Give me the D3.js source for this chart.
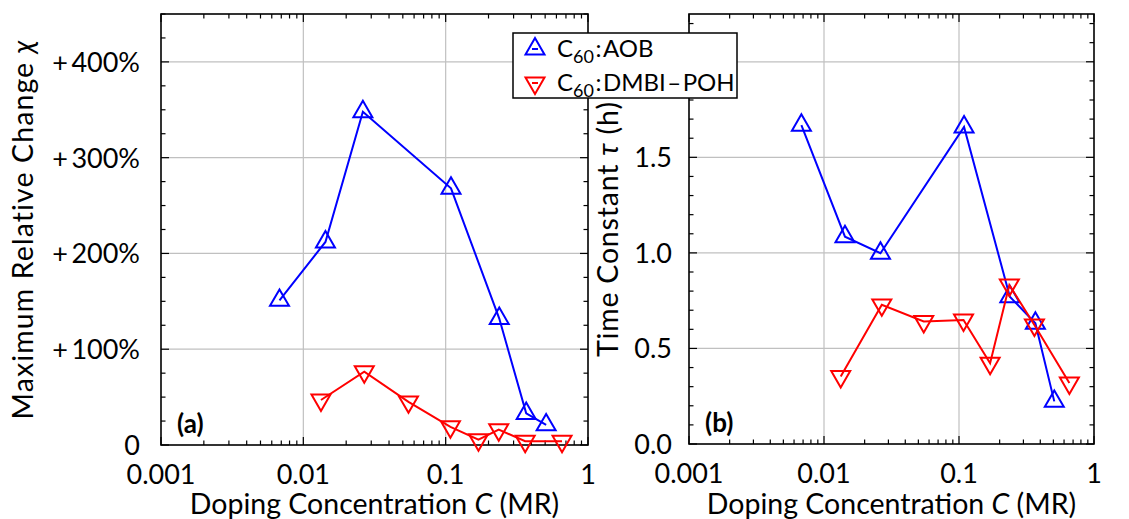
<!DOCTYPE html>
<html lang="en">
<head>
<meta charset="UTF-8">
<title>Doping concentration</title>
<style>
    body { margin: 0; background: #fff; }
    svg { display: block; }
    text { font-family: Lato, "Open Sans", sans-serif; fill: #000; }
    .tick-label { font-size: 27px; }
    .axis-title { font-size: 28.5px; }
    .panel-tag { font-size: 26px; font-weight: bold; }
    .legend-text { font-size: 24px; }
    .grid { stroke: #c0c0c0; stroke-width: 1.2; }
    .frame { fill: none; stroke: #000; stroke-width: 1.6; }
    .tick { stroke: #000; stroke-width: 1.2; }
</style>
<script src="https://d3js.org/d3.v7.min.js"></script>
</head>
<body>
<svg id="chart" width="1129" height="519" viewBox="0 0 1129 519"></svg>
<script>
// doping concentration (MR)
const concAOB  = [0.0068, 0.0143, 0.0262, 0.109, 0.238, 0.368, 0.508];
const concDMBI = [0.0133, 0.0268, 0.0548, 0.108, 0.17, 0.236, 0.362, 0.657];
// panel (a): maximum relative change chi (%)
const chiAOB  = [151, 212, 348, 268, 132, 33, 21];
const chiDMBI = [47, 76.5, 45, 19, 5.5, 16, 4, 4];
// panel (b): time constant tau (h)
const tauAOB  = [1.668, 1.085, 0.998, 1.659, 0.771, 0.632, 0.223];
const tauDMBI = [0.353, 0.728, 0.641, 0.649, 0.423, 0.832, 0.623, 0.319];

const xTicks = [0.001, 0.01, 0.1, 1];
const xTickLabels = ["0.001", "0.01", "0.1", "1"];
const chiTicks = [0, 100, 200, 300, 400];
const chiTickLabels = ["0", "+\u2009100%", "+\u2009200%", "+\u2009300%", "+\u2009400%"];
// the 2.0 label sits behind the legend box, so it is left empty
const tauTicks = [0, 0.5, 1.0, 1.5, 2.0];
const tauTickLabels = ["0.0", "0.5", "1.0", "1.5", ""];

const blue = "#0000ff", red = "#ff0000";
const svg = d3.select("#chart");

function triPath(up) {
    let a = 19, h = a * Math.sqrt(3) / 2;
    let s = up ? 1 : -1;
    return `M0,${-s * h * 2 / 3}L${a / 2},${s * h / 3}L${-a / 2},${s * h / 3}Z`;
}

function drawPanel(p) {
    let g = svg.append("g");
    let x = d3.scaleLog().domain([0.001, 1]).range([p.left, p.right]);
    let y = d3.scaleLinear().domain(p.yDomain).range([p.bottom, p.top]);

    // minor x ticks (log)
    let xMinor = [];
    [0.001, 0.01, 0.1].forEach(function (d) {
        for (let k = 2; k <= 9; k++) xMinor.push(d * k);
    });
    let yMinor = d3.range(p.yDomain[0], p.yDomain[1] + 1e-9, p.yMinorStep);

    // grid
    g.selectAll(".gx").data(xTicks.slice(1, -1)).enter().append("line")
        .attr("class", "grid")
        .attr("x1", d => x(d)).attr("x2", d => x(d))
        .attr("y1", p.top).attr("y2", p.bottom);
    g.selectAll(".gy").data(p.yTicks.slice(1)).enter().append("line")
        .attr("class", "grid")
        .attr("x1", p.left).attr("x2", p.right)
        .attr("y1", d => y(d)).attr("y2", d => y(d));

    // ticks, pointing inward on all four sides
    let tk = g.append("g");
    xTicks.concat(xMinor).forEach(function (d) {
        let len = xTicks.includes(d) ? 8 : 4.5;
        tk.append("line").attr("class", "tick")
            .attr("x1", x(d)).attr("x2", x(d)).attr("y1", p.bottom).attr("y2", p.bottom - len);
        tk.append("line").attr("class", "tick")
            .attr("x1", x(d)).attr("x2", x(d)).attr("y1", p.top).attr("y2", p.top + len);
    });
    yMinor.forEach(function (d) {
        let major = p.yTicks.some(t => Math.abs(t - d) < 1e-6);
        let len = major ? 8 : 4.5;
        tk.append("line").attr("class", "tick")
            .attr("x1", p.left).attr("x2", p.left + len).attr("y1", y(d)).attr("y2", y(d));
        tk.append("line").attr("class", "tick")
            .attr("x1", p.right).attr("x2", p.right - len).attr("y1", y(d)).attr("y2", y(d));
    });

    g.append("rect").attr("class", "frame")
        .attr("x", p.left).attr("y", p.top)
        .attr("width", p.right - p.left).attr("height", p.bottom - p.top);

    // tick labels
    g.selectAll(".xl").data(xTicks).enter().append("text")
        .attr("class", "tick-label")
        .attr("x", d => x(d)).attr("y", p.bottom + 39)
        .attr("text-anchor", "middle")
        .text((d, i) => xTickLabels[i]);
    g.selectAll(".yl").data(p.yTicks.filter((d, i) => p.yTickLabels[i] !== "")).enter().append("text")
        .attr("class", "tick-label")
        .attr("x", p.left - p.yLabelGap).attr("y", d => y(d) + 10)
        .attr("text-anchor", "end")
        .text((d, i) => p.yTickLabels[i]);

    // axis titles
    let xt = g.append("text").attr("class", "axis-title")
        .attr("x", (p.left + p.right) / 2).attr("y", 514)
        .attr("text-anchor", "middle");
    xt.append("tspan").text("Doping Concentration ");
    xt.append("tspan").attr("font-style", "italic").text("C");
    xt.append("tspan").text(" (MR)");

    let yt = g.append("text").attr("class", "axis-title")
        .attr("transform", `translate(${p.yTitleX},${(p.top + p.bottom) / 2}) rotate(-90)`)
        .attr("letter-spacing", p.yTitleSpacing)
        .attr("text-anchor", "middle");
    yt.append("tspan").text(p.yTitle[0]);
    yt.append("tspan").attr("font-style", "italic").text(p.yTitle[1]);
    yt.append("tspan").text(p.yTitle[2]);

    // series
    let line = d3.line().x(d => x(d[0])).y(d => y(d[1]));
    p.series.forEach(function (s) {
        let pts = d3.zip(s.conc, s.vals);
        g.append("path").datum(pts)
            .attr("d", line)
            .attr("fill", "none").attr("stroke", s.color).attr("stroke-width", 2);
        g.selectAll(null).data(pts).enter().append("path")
            .attr("transform", d => `translate(${x(d[0])},${y(d[1])})`)
            .attr("d", triPath(s.up))
            .attr("fill", "none").attr("stroke", s.color).attr("stroke-width", 2);
    });

    g.append("text").attr("class", "panel-tag")
        .attr("x", p.left + 16).attr("y", p.bottom - 12)
        .text(p.tag);
}

drawPanel({
    left: 161, right: 588, top: 14, bottom: 445,
    yDomain: [0, 450], yTicks: chiTicks, yTickLabels: chiTickLabels, yMinorStep: 25,
    yLabelGap: 21,
    yTitle: ["Maximum Relative Change ", "\u03c7", ""], yTitleX: 33, yTitleSpacing: 1.1,
    tag: "(a)",
    series: [
        {conc: concAOB, vals: chiAOB, color: blue, up: true},
        {conc: concDMBI, vals: chiDMBI, color: red, up: false}
    ]
});

drawPanel({
    left: 689, right: 1094, top: 14, bottom: 444,
    yDomain: [0, 2.25], yTicks: tauTicks, yTickLabels: tauTickLabels, yMinorStep: 0.1,
    yLabelGap: 17,
    yTitle: ["Time Constant ", "\u03c4", " (h)"], yTitleX: 618, yTitleSpacing: 0.8,
    tag: "(b)",
    series: [
        {conc: concAOB, vals: tauAOB, color: blue, up: true},
        {conc: concDMBI, vals: tauDMBI, color: red, up: false}
    ]
});

// legend on top of both panels
let lg = svg.append("g");
lg.append("rect")
    .attr("x", 513).attr("y", 33).attr("width", 224).attr("height", 65)
    .attr("fill", "#fff").attr("stroke", "#000").attr("stroke-width", 1.5);
[["AOB", blue, true], ["DMBI\u200a\u2013\u200aPOH", red, false]].forEach(function (d, i) {
    let cy = 49 + i * 34;
    lg.append("path")
        .attr("transform", `translate(535,${cy})`)
        .attr("d", triPath(d[2]))
        .attr("fill", "none").attr("stroke", d[1]).attr("stroke-width", 2);
    lg.append("line")
        .attr("x1", 532).attr("x2", 538).attr("y1", cy).attr("y2", cy)
        .attr("stroke", d[1]).attr("stroke-width", 2);
    let t = lg.append("text").attr("class", "legend-text")
        .attr("x", 557).attr("y", cy + 8);
    t.append("tspan").text("C");
    t.append("tspan").attr("font-size", 18).attr("dy", 6).text("60");
    t.append("tspan").attr("dy", -6).text("\u200a:\u200a" + d[0]);
});
</script>
</body>
</html>
